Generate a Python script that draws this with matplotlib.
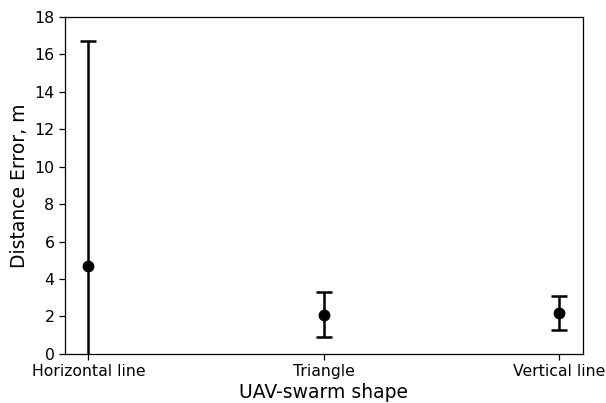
import matplotlib
matplotlib.use("Agg")
import matplotlib.pyplot as plt

shapes = ["Horizontal line", "Triangle", "Vertical line"]
mean_err = [4.7, 2.1, 2.2]
spread = [12.0, 1.2, 0.9]

fig = plt.figure(figsize=(6.06, 4.03), dpi=100)
ax = fig.add_axes([0.107, 0.122, 0.855, 0.836])

ax.errorbar(shapes, mean_err, yerr=spread, fmt="o", color="black",
            markersize=7.5, elinewidth=1.8, capsize=5.5, capthick=1.8)
ax.set_ylim(0, 18)
ax.set_yticks(range(0, 19, 2))
ax.tick_params(labelsize=11.3, length=4, width=0.9)
for s in ax.spines.values():
    s.set_linewidth(0.9)
ax.set_xlabel("UAV-swarm shape", fontsize=13.5, labelpad=3)
ax.set_ylabel("Distance Error, m", fontsize=13.5)

fig.savefig("out.png", dpi=100)
